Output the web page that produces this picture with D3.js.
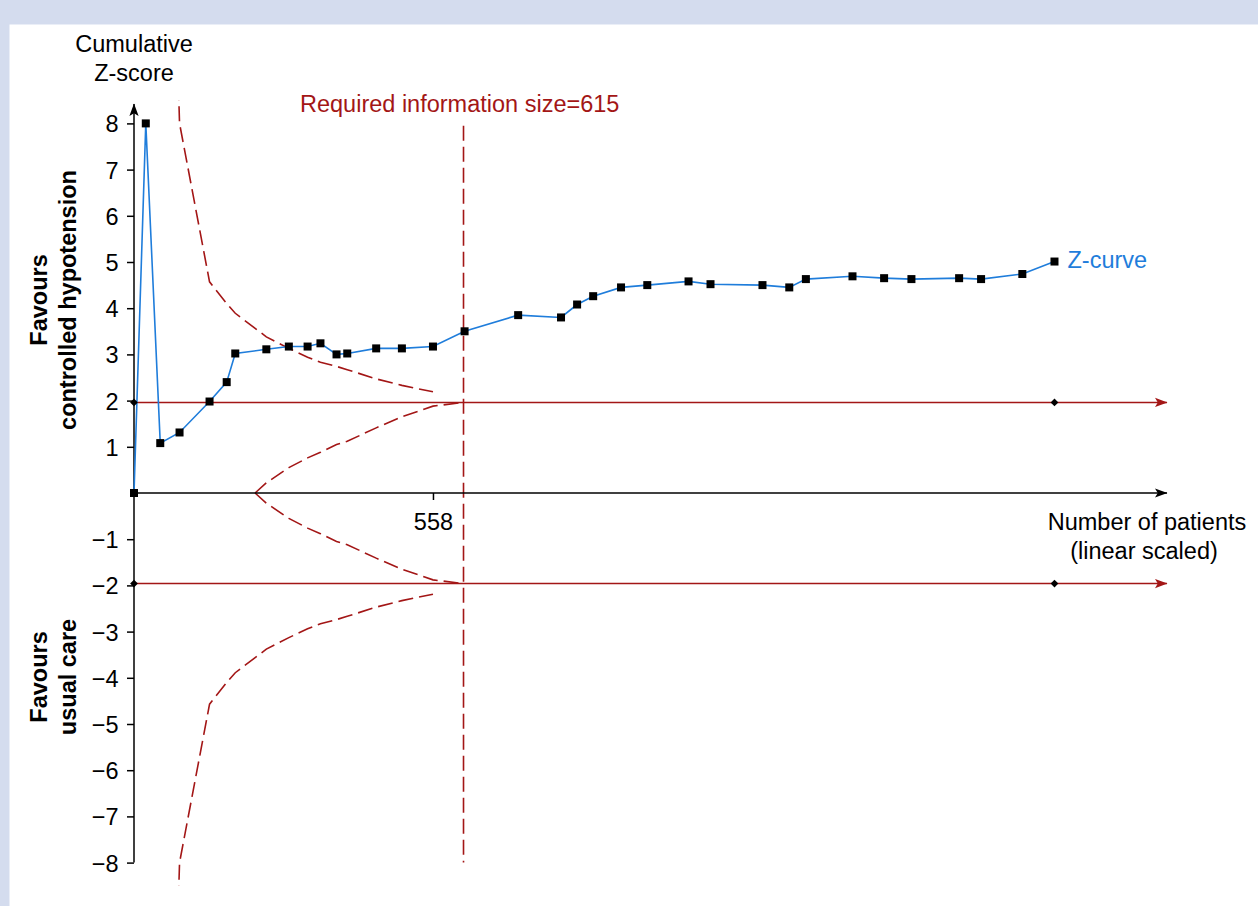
<!DOCTYPE html>
<html>
<head>
<meta charset="utf-8">
<script src="https://cdn.jsdelivr.net/npm/d3@7/dist/d3.min.js"></script>
<style>
  html, body { margin: 0; padding: 0; background: #ffffff; }
  svg { display: block; }
  text { font-family: "Liberation Sans", Arial, sans-serif; }
</style>
</head>
<body>
<svg id="chart" width="1258" height="906"></svg>
<script>
// Cumulative number of patients after each trial
const patients = [0, 22, 49, 85, 141, 173, 189, 247, 289, 324, 348, 378, 398, 452, 500, 558,
  617, 717, 797, 827, 857, 909, 958, 1035, 1076, 1173, 1223, 1254, 1341, 1400, 1451, 1540,
  1581, 1658, 1718];
// Cumulative Z-score after each trial
const zCurve = [0, 8.0, 1.08, 1.31, 1.98, 2.40, 3.02, 3.11, 3.17, 3.17, 3.24, 3.00, 3.02, 3.13,
  3.13, 3.17, 3.50, 3.85, 3.80, 4.08, 4.26, 4.45, 4.50, 4.58, 4.52, 4.50, 4.45, 4.63, 4.69,
  4.65, 4.63, 4.65, 4.63, 4.74, 5.01];

// Trial sequential monitoring boundaries (benefit / harm, mirrored)
const boundaryN = [49, 85, 141, 173, 189, 247, 289, 324, 348, 378, 398, 452, 500, 558];
const boundaryZ = [22, 8.0, 4.57, 4.10, 3.89, 3.38, 3.13, 2.94, 2.83, 2.74, 2.67, 2.47, 2.33, 2.19];

// Futility (inner wedge) boundaries, mirrored
const innerN = [226, 247, 289, 324, 348, 378, 398, 452, 500, 558, 615];
const innerZ = [0, 0.22, 0.55, 0.76, 0.88, 1.05, 1.12, 1.41, 1.65, 1.88, 1.96];

const requiredSize = 615;
const conventionalZ = 1.96;
const yTicks = [8, 7, 6, 5, 4, 3, 2, 1, -1, -2, -3, -4, -5, -6, -7, -8];
const xTicks = [558];

const RED = "#a31616";
const BLUE = "#1f7ddb";
const FS = "23.5px";

const svg = d3.select("#chart");

// page frame
svg.append("rect").attr("x", 0).attr("y", 0).attr("width", 1258).attr("height", 906).attr("fill", "#d4dcee");
svg.append("rect").attr("x", 9.5).attr("y", 24.5).attr("width", 1258).attr("height", 906).attr("fill", "#ffffff");

const x = d3.scaleLinear().domain([0, 1928]).range([134, 1167]);
const y = d3.scaleLinear().domain([-8, 8]).range([862.6, 123.4]);

const defs = svg.append("defs");
function arrow(id, color) {
  defs.append("marker")
    .attr("id", id)
    .attr("viewBox", "0 -5 13 10")
    .attr("refX", 12).attr("refY", 0)
    .attr("markerWidth", 13).attr("markerHeight", 10)
    .attr("markerUnits", "userSpaceOnUse")
    .attr("orient", "auto")
    .append("path")
    .attr("d", "M0,-4.6L12.5,0L0,4.6L2.8,0Z")
    .attr("fill", color);
}
arrow("arrRed", RED);
arrow("arrBlack", "#000");

defs.append("clipPath").attr("id", "plotClip")
  .append("rect")
  .attr("x", x(0)).attr("y", y(8.5))
  .attr("width", x(1928) - x(0)).attr("height", y(-8.5) - y(8.5));

// conventional significance lines at +/-1.96
[conventionalZ, -conventionalZ].forEach(v => {
  svg.append("line")
    .attr("x1", x(0)).attr("x2", x(1928))
    .attr("y1", y(v)).attr("y2", y(v))
    .attr("stroke", RED).attr("stroke-width", 1.6)
    .attr("marker-end", "url(#arrRed)");
});

// boundaries
const line = d3.line().x(d => x(d[0])).y(d => y(d[1]));
const dashed = { stroke: RED, width: 1.6, dash: "15,6" };
const bGroup = svg.append("g").attr("clip-path", "url(#plotClip)");
const curves = [
  boundaryN.map((n, i) => [n, boundaryZ[i]]),
  boundaryN.map((n, i) => [n, -boundaryZ[i]]),
  innerN.map((n, i) => [n, innerZ[i]]),
  innerN.map((n, i) => [n, -innerZ[i]])
];
curves.forEach(c => {
  bGroup.append("path")
    .attr("d", line(c))
    .attr("fill", "none")
    .attr("stroke", dashed.stroke)
    .attr("stroke-width", dashed.width)
    .attr("stroke-dasharray", dashed.dash);
});

// required information size
svg.append("line")
  .attr("x1", x(requiredSize)).attr("x2", x(requiredSize))
  .attr("y1", y(7.95)).attr("y2", y(-8))
  .attr("stroke", RED).attr("stroke-width", 1.6)
  .attr("stroke-dasharray", "15,6");
svg.append("text")
  .attr("x", 300).attr("y", 111.5)
  .attr("fill", RED).style("font-size", FS)
  .text("Required information size=" + requiredSize);

// y axis
const yAxis = d3.axisLeft(y)
  .tickValues(yTicks)
  .tickSize(7)
  .tickPadding(8.5)
  .tickFormat(d => d < 0 ? "\u2212" + Math.abs(d) : String(d));
const gy = svg.append("g").attr("transform", `translate(${x(0)},0)`).call(yAxis);
gy.select(".domain").remove();
gy.selectAll(".tick line").attr("stroke", "#000").attr("stroke-width", 1.5);
gy.selectAll(".tick text").attr("fill", "#000").attr("dy", "0.36em")
  .style("font-size", FS).style("font-family", "'Liberation Sans', Arial, sans-serif");
svg.append("line")
  .attr("x1", x(0)).attr("x2", x(0))
  .attr("y1", y(-8)).attr("y2", y(8.42))
  .attr("stroke", "#000").attr("stroke-width", 1.5)
  .attr("marker-end", "url(#arrBlack)");

// x axis
const xAxis = d3.axisBottom(x).tickValues(xTicks).tickSize(7).tickPadding(13).tickFormat(d3.format("d"));
const gx = svg.append("g").attr("transform", `translate(0,${y(0)})`).call(xAxis);
gx.select(".domain").remove();
gx.selectAll(".tick line").attr("stroke", "#000").attr("stroke-width", 1.5);
gx.selectAll(".tick text").attr("fill", "#000")
  .style("font-size", FS).style("font-family", "'Liberation Sans', Arial, sans-serif");
svg.append("line")
  .attr("x1", x(0)).attr("x2", x(1928))
  .attr("y1", y(0)).attr("y2", y(0))
  .attr("stroke", "#000").attr("stroke-width", 1.5)
  .attr("marker-end", "url(#arrBlack)");

// axis titles
const yTitle = svg.append("text").attr("text-anchor", "middle").style("font-size", FS).attr("fill", "#000");
yTitle.append("tspan").attr("x", x(0)).attr("y", 51.5).text("Cumulative");
yTitle.append("tspan").attr("x", x(0)).attr("y", 80.5).text("Z-score");

const xTitle = svg.append("text").attr("text-anchor", "middle").style("font-size", FS).attr("fill", "#000");
xTitle.append("tspan").attr("x", 1147).attr("y", 530).text("Number of patients");
xTitle.append("tspan").attr("x", 1144).attr("y", 558.5).text("(linear scaled)");

function sideLabel(lines, cy) {
  const t = svg.append("text")
    .attr("text-anchor", "middle")
    .attr("transform", `translate(0,${cy}) rotate(-90)`)
    .style("font-size", FS).style("font-weight", "bold").attr("fill", "#000");
  lines.forEach((s, i) => {
    t.append("tspan").attr("x", 0).attr("y", 46.5 + i * 29.5).text(s);
  });
}
sideLabel(["Favours", "controlled hypotension"], 300);
sideLabel(["Favours", "usual care"], 677);

// Z-curve
const zData = patients.map((n, i) => [n, zCurve[i]]);
svg.append("path")
  .attr("d", line(zData))
  .attr("fill", "none")
  .attr("stroke", BLUE).attr("stroke-width", 1.6);
svg.selectAll("rect.pt").data(zData).enter().append("rect")
  .attr("class", "pt")
  .attr("x", d => x(d[0]) - 4).attr("y", d => y(d[1]) - 4)
  .attr("width", 8).attr("height", 8)
  .attr("fill", "#000");
const last = zData[zData.length - 1];
svg.append("text")
  .attr("x", x(last[0]) + 13).attr("y", 268)
  .attr("fill", BLUE).style("font-size", FS)
  .text("Z-curve");

// diamonds on the conventional lines
const diamond = d3.symbol().type(d3.symbolSquare).size(30);
[[0, conventionalZ], [0, -conventionalZ], [last[0], conventionalZ], [last[0], -conventionalZ]].forEach(d => {
  svg.append("path")
    .attr("d", diamond())
    .attr("transform", `translate(${x(d[0])},${y(d[1])}) rotate(45)`)
    .attr("fill", "#000");
});
</script>
</body>
</html>
